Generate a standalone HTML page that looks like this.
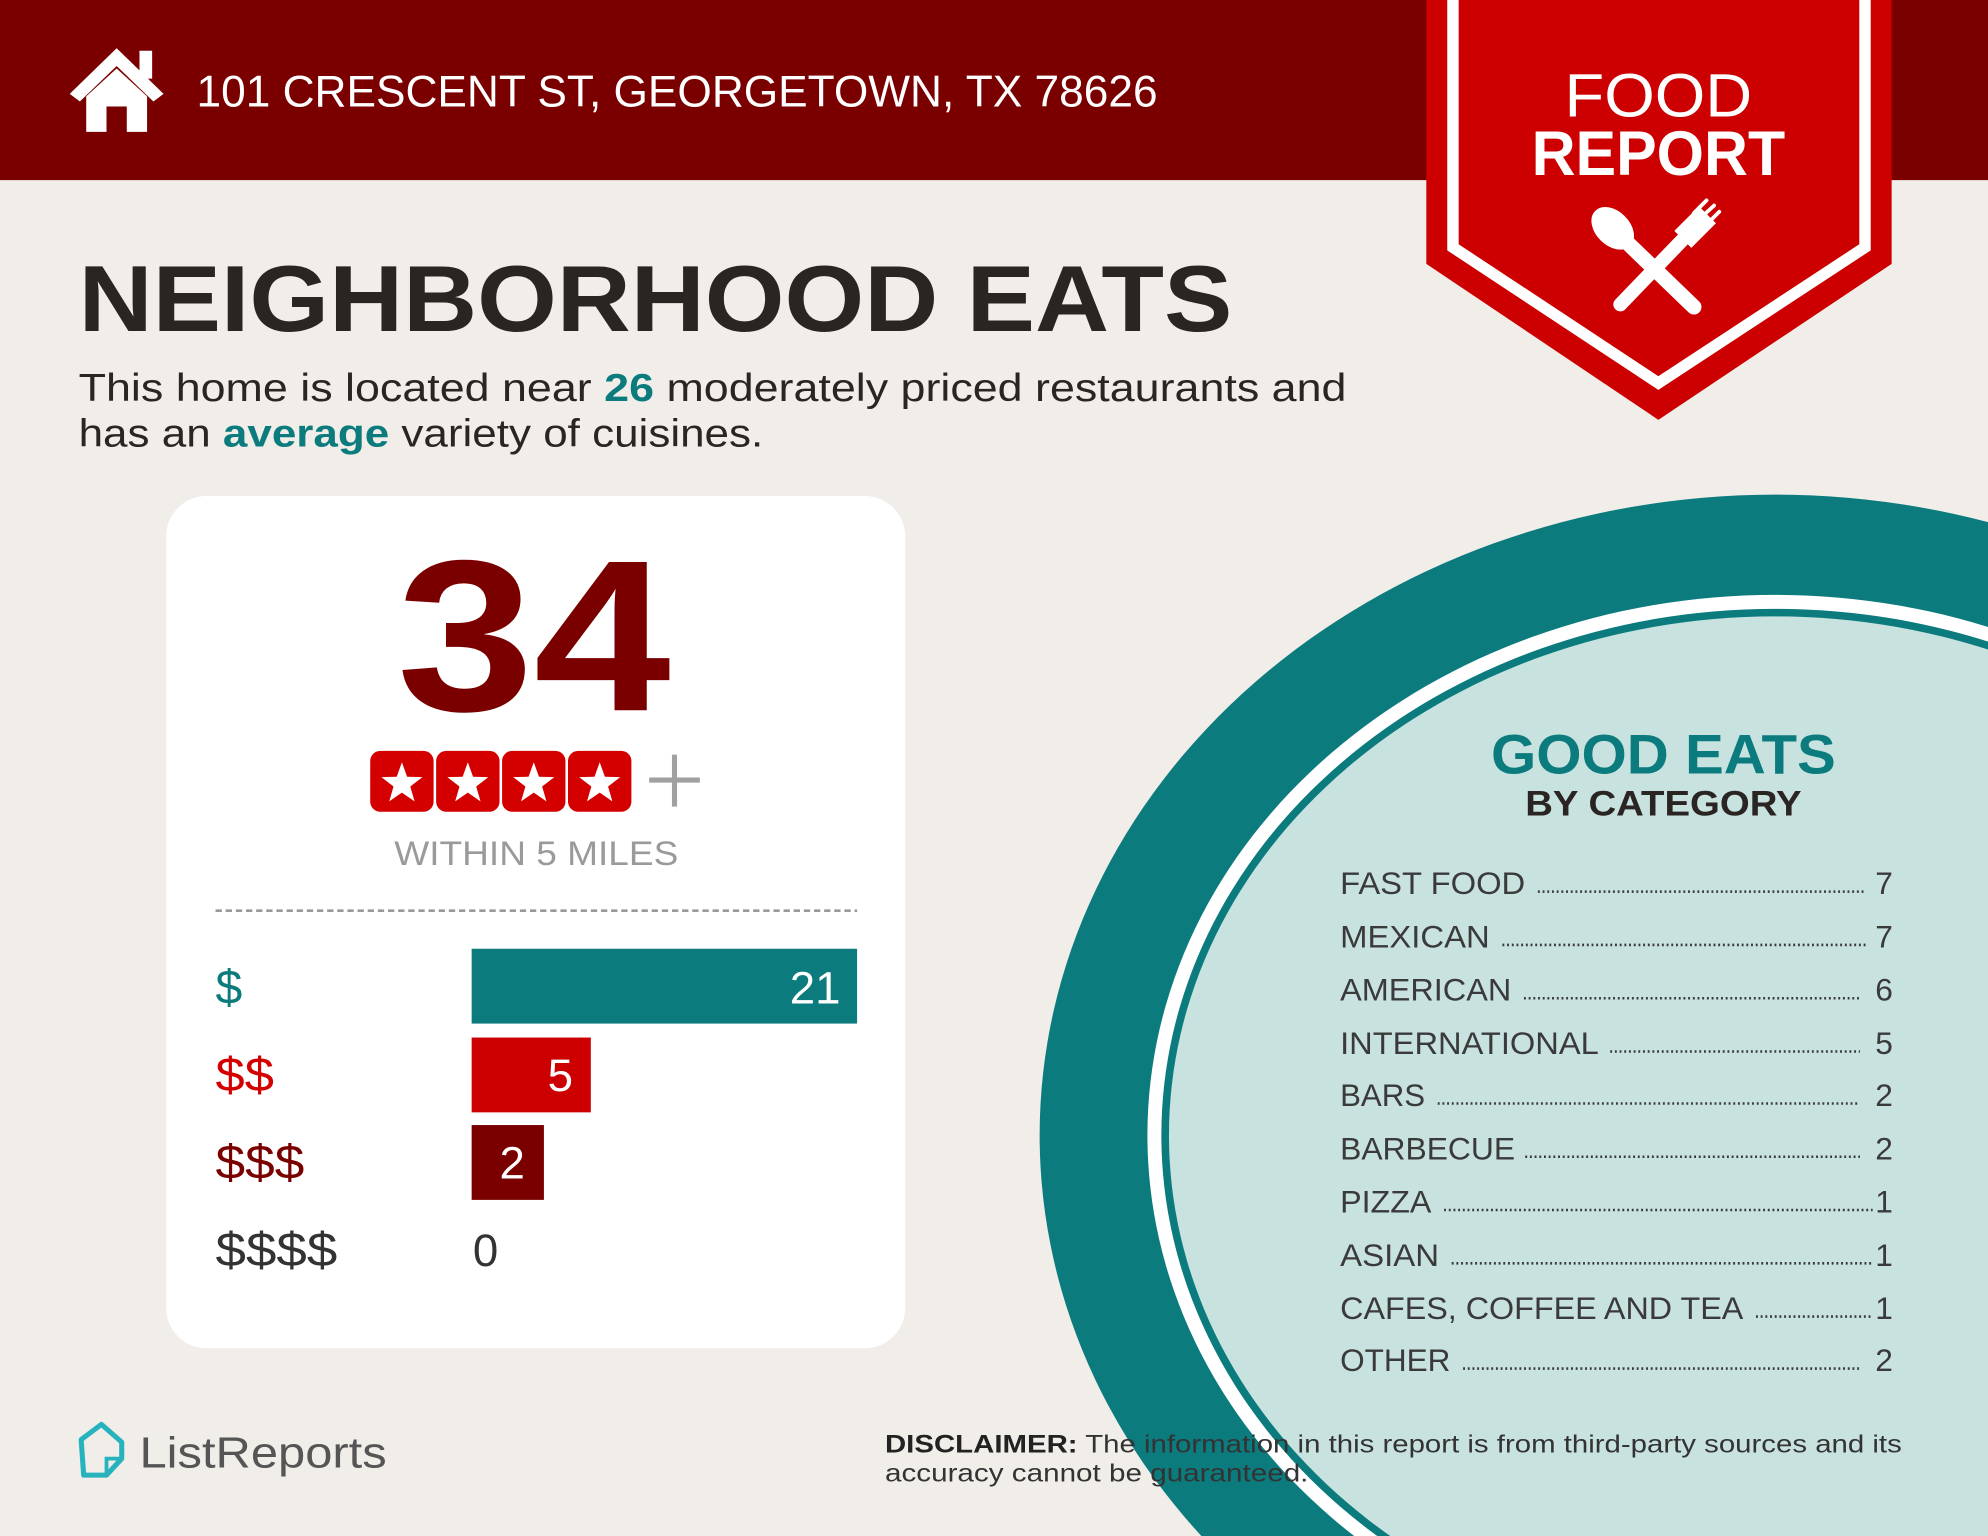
<!DOCTYPE html>
<html><head><meta charset="utf-8"><style>html,body{margin:0;padding:0;background:#f1ede9;width:1988px;height:1536px;overflow:hidden}svg{display:block}</style></head>
<body>
<svg width="1988" height="1536" viewBox="0 0 1568 1211" preserveAspectRatio="none" xmlns="http://www.w3.org/2000/svg" font-family="Liberation Sans, sans-serif">
<defs>
<clipPath id="pg"><rect x="0" y="0" width="1568" height="1211"/></clipPath>
<path id="st" d="M0,-17 L4.1,-5.6 L16.2,-5.3 L6.6,2.1 L10,13.8 L0,6.9 L-10,13.8 L-6.6,2.1 L-16.2,-5.3 L-4.1,-5.6 Z" fill="#fff"/>
</defs>
<rect width="1568" height="1211" fill="#f1ede9"/>
<g clip-path="url(#pg)">
<ellipse cx="1400" cy="895" rx="580" ry="505" fill="#0b7b7e"/>
<ellipse cx="1400" cy="895" rx="495" ry="426" fill="#fff"/>
<ellipse cx="1400" cy="895" rx="484" ry="415" fill="#0b7b7e"/>
<ellipse cx="1400" cy="895" rx="478" ry="409" fill="#c8e2e0"/>
</g>
<rect x="0" y="0" width="1568" height="142" fill="#7a0000"/>
<g fill="#fff">
<polygon points="55,74 92,38 129,74 121,80 92,52 63,80"/>
<rect x="110" y="40" width="10" height="22"/>
<path d="M68,76 L92,54 L116,76 L116,104 L100,104 L100,84 L84,84 L84,104 L68,104 Z"/>
</g>
<text x="155" y="84" font-size="35" fill="#fff" textLength="758" lengthAdjust="spacingAndGlyphs">101 CRESCENT ST, GEORGETOWN, TX 78626</text>
<polygon points="1125,0 1492,0 1492,208 1308,331 1125,208" fill="#cc0000"/>
<polyline points="1146,0 1146,195 1308,302 1471,195 1471,0" fill="none" stroke="#fff" stroke-width="9"/>
<text x="1308" y="92" font-size="48" fill="#fff" text-anchor="middle" textLength="148" lengthAdjust="spacingAndGlyphs">FOOD</text>
<text x="1308" y="138" font-size="50" font-weight="bold" fill="#fff" text-anchor="middle" textLength="200" lengthAdjust="spacingAndGlyphs">REPORT</text>
<g stroke="#fff" stroke-linecap="round" fill="#fff">
<line x1="1278" y1="186" x2="1336" y2="242" stroke-width="12"/>
<ellipse cx="1272" cy="180" rx="13" ry="19" transform="rotate(-45 1272 180)"/>
<line x1="1278" y1="240" x2="1330" y2="186" stroke-width="11"/>
<path d="M1322,182 L1340,164 L1352,176 L1334,194 Z" stroke-width="2"/>
<line x1="1336" y1="168" x2="1346" y2="158" stroke-width="3"/>
<line x1="1341" y1="172" x2="1352" y2="162" stroke-width="3"/>
<line x1="1346" y1="177" x2="1356" y2="167" stroke-width="3"/>
</g>
<text x="62" y="261" font-size="74" font-weight="bold" fill="#2a2523" textLength="910" lengthAdjust="spacingAndGlyphs">NEIGHBORHOOD EATS</text>
<text x="62" y="316" font-size="31" fill="#2a2523" textLength="1000" lengthAdjust="spacingAndGlyphs">This home is located near <tspan font-weight="bold" fill="#0b7b7e">26</tspan> moderately priced restaurants and</text>
<text x="62" y="352" font-size="31" fill="#2a2523" textLength="540" lengthAdjust="spacingAndGlyphs">has an <tspan font-weight="bold" fill="#0b7b7e">average</tspan> variety of cuisines.</text>
<rect x="131" y="391" width="583" height="672" rx="32" fill="#fff"/>
<text x="421" y="560" font-size="170" font-weight="bold" fill="#7a0000" text-anchor="middle" textLength="216" lengthAdjust="spacingAndGlyphs">34</text>
<g>
<rect x="292" y="592" width="50" height="48" rx="8" fill="#d40000"/>
<rect x="344" y="592" width="50" height="48" rx="8" fill="#d40000"/>
<rect x="396" y="592" width="50" height="48" rx="8" fill="#d40000"/>
<rect x="448" y="592" width="50" height="48" rx="8" fill="#d40000"/>
<use href="#st" x="317" y="618"/><use href="#st" x="369" y="618"/><use href="#st" x="421" y="618"/><use href="#st" x="473" y="618"/>
<line x1="512" y1="615" x2="552" y2="615" stroke="#a0a0a0" stroke-width="4"/>
<line x1="532" y1="595" x2="532" y2="636" stroke="#a0a0a0" stroke-width="4"/>
</g>
<text x="423" y="682" font-size="27" fill="#9a9a9a" text-anchor="middle" textLength="224" lengthAdjust="spacingAndGlyphs">WITHIN 5 MILES</text>
<line x1="170" y1="718" x2="676" y2="718" stroke="#999" stroke-width="2" stroke-dasharray="5 3"/>
<text x="170" y="791" font-size="38" fill="#0b7b7e">$</text>
<rect x="372" y="748" width="304" height="59" fill="#0b7b7e"/>
<text x="663" y="791" font-size="36" fill="#fff" text-anchor="end">21</text>
<text x="170" y="860" font-size="38" fill="#d40000" textLength="46" lengthAdjust="spacingAndGlyphs">$$</text>
<rect x="372" y="818" width="94" height="59" fill="#cc0000"/>
<text x="452" y="860" font-size="36" fill="#fff" text-anchor="end">5</text>
<text x="170" y="929" font-size="38" fill="#7a0000" textLength="70" lengthAdjust="spacingAndGlyphs">$$$</text>
<rect x="372" y="887" width="57" height="59" fill="#7a0000"/>
<text x="414" y="929" font-size="36" fill="#fff" text-anchor="end">2</text>
<text x="170" y="998" font-size="38" fill="#333" textLength="96" lengthAdjust="spacingAndGlyphs">$$$$</text>
<text x="373" y="998" font-size="36" fill="#333">0</text>
<text x="1312" y="610" font-size="44" font-weight="bold" fill="#0b7b7e" text-anchor="middle" textLength="272" lengthAdjust="spacingAndGlyphs">GOOD EATS</text>
<text x="1312" y="643" font-size="28" font-weight="bold" fill="#2a2523" text-anchor="middle" textLength="218" lengthAdjust="spacingAndGlyphs">BY CATEGORY</text>
<g font-size="25" fill="#3a3a3a" stroke="#3a3a3a">
<g stroke="none">
<text x="1057" y="705" textLength="146" lengthAdjust="spacingAndGlyphs">FAST FOOD</text>
<text x="1057" y="747" textLength="118" lengthAdjust="spacingAndGlyphs">MEXICAN</text>
<text x="1057" y="789" textLength="135" lengthAdjust="spacingAndGlyphs">AMERICAN</text>
<text x="1057" y="831" textLength="204" lengthAdjust="spacingAndGlyphs">INTERNATIONAL</text>
<text x="1057" y="872" textLength="67" lengthAdjust="spacingAndGlyphs">BARS</text>
<text x="1057" y="914" textLength="138" lengthAdjust="spacingAndGlyphs">BARBECUE</text>
<text x="1057" y="956" textLength="72" lengthAdjust="spacingAndGlyphs">PIZZA</text>
<text x="1057" y="998" textLength="78" lengthAdjust="spacingAndGlyphs">ASIAN</text>
<text x="1057" y="1040" textLength="318" lengthAdjust="spacingAndGlyphs">CAFES, COFFEE AND TEA</text>
<text x="1057" y="1081" textLength="87" lengthAdjust="spacingAndGlyphs">OTHER</text>
<text x="1493" y="705" text-anchor="end">7</text>
<text x="1493" y="747" text-anchor="end">7</text>
<text x="1493" y="789" text-anchor="end">6</text>
<text x="1493" y="831" text-anchor="end">5</text>
<text x="1493" y="872" text-anchor="end">2</text>
<text x="1493" y="914" text-anchor="end">2</text>
<text x="1493" y="956" text-anchor="end">1</text>
<text x="1493" y="998" text-anchor="end">1</text>
<text x="1493" y="1040" text-anchor="end">1</text>
<text x="1493" y="1081" text-anchor="end">2</text>
</g>
<g stroke-width="2" stroke-dasharray="1.5 2.2">
<line x1="1213" y1="703" x2="1472" y2="703"/>
<line x1="1185" y1="745" x2="1472" y2="745"/>
<line x1="1202" y1="787" x2="1467" y2="787"/>
<line x1="1270" y1="829" x2="1467" y2="829"/>
<line x1="1134" y1="870" x2="1467" y2="870"/>
<line x1="1203" y1="912" x2="1467" y2="912"/>
<line x1="1139" y1="954" x2="1477" y2="954"/>
<line x1="1145" y1="996" x2="1477" y2="996"/>
<line x1="1385" y1="1038" x2="1477" y2="1038"/>
<line x1="1154" y1="1079" x2="1467" y2="1079"/>
</g>
</g>
<path d="M64,1135 L80,1123 L96,1137 L96,1150 L84,1163 L66,1163 Z" fill="none" stroke="#27b3bd" stroke-width="4" stroke-linejoin="round"/>
<path d="M84,1163 L84,1150 L96,1150" fill="none" stroke="#27b3bd" stroke-width="3"/>
<text x="110" y="1157" font-size="34" fill="#555" textLength="195" lengthAdjust="spacingAndGlyphs">ListReports</text>
<text x="698" y="1145" font-size="20" fill="#333" textLength="802" lengthAdjust="spacingAndGlyphs"><tspan font-weight="bold" fill="#222">DISCLAIMER:</tspan> The information in this report is from third-party sources and its</text>
<text x="698" y="1168" font-size="20" fill="#333" textLength="334" lengthAdjust="spacingAndGlyphs">accuracy cannot be guaranteed.</text>
</svg>
</body></html>
